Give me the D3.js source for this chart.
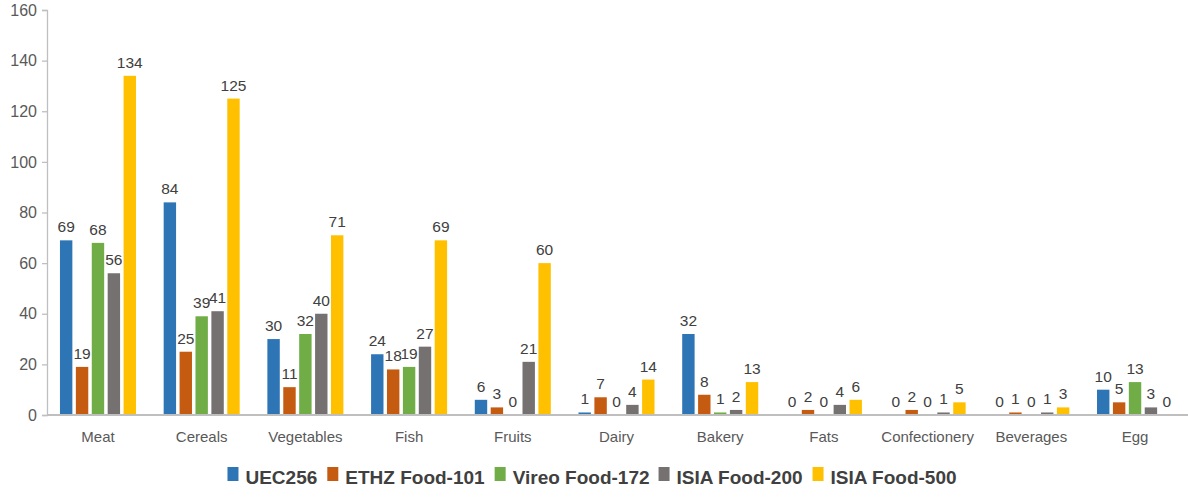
<!DOCTYPE html>
<html>
<head>
<meta charset="utf-8">
<script src="https://cdn.jsdelivr.net/npm/d3@7"></script>
<style>
  body { margin: 0; background: #fff; }
  svg { display: block; }
  text { font-family: "Liberation Sans", "DejaVu Sans", sans-serif; }
</style>
</head>
<body>
<svg id="chart"></svg>
<script>
  const categories = ['Meat', 'Cereals', 'Vegetables', 'Fish', 'Fruits', 'Dairy', 'Bakery', 'Fats', 'Confectionery', 'Beverages', 'Egg'];
  const seriesNames = ['UEC256', 'ETHZ Food-101', 'Vireo Food-172', 'ISIA Food-200', 'ISIA Food-500'];
  const uec256 = [69, 84, 30, 24, 6, 1, 32, 0, 0, 0, 10];
  const ethz101 = [19, 25, 11, 18, 3, 7, 8, 2, 2, 1, 5];
  const vireo172 = [68, 39, 32, 19, 0, 0, 1, 0, 0, 0, 13];
  const isia200 = [56, 41, 40, 27, 21, 4, 2, 4, 1, 1, 3];
  const isia500 = [134, 125, 71, 69, 60, 14, 13, 6, 5, 3, 0];
  const yTicks = [0, 20, 40, 60, 80, 100, 120, 140, 160];
  const colors = ['#2E75B6', '#C55A11', '#70AD47', '#767171', '#FFC000'];

  let width = 1188, height = 497,
    margin = { top: 10, right: 2, bottom: 82, left: 47 },
    svg = d3.select('#chart').attr('width', width).attr('height', height);

  let values = [uec256, ethz101, vireo172, isia200, isia500];
  let rows = [];
  categories.forEach((c, i) => {
    seriesNames.forEach((s, j) => rows.push({ cat: c, series: s, idx: j, value: values[j][i] }));
  });

  let x0 = d3.scaleBand().domain(categories)
    .range([margin.left, width - margin.right]).paddingInner(0.267).paddingOuter(0.125);
  let x1 = d3.scaleBand().domain(seriesNames)
    .range([0, x0.bandwidth()]).paddingInner(0.22);
  let y = d3.scaleLinear().domain([0, 160]).range([height - margin.bottom, margin.top]);

  // y axis
  let yAxis = svg.append('g')
    .attr('transform', 'translate(' + margin.left + ',0)')
    .call(d3.axisLeft(y).tickValues(yTicks).tickSize(5).tickPadding(5));
  yAxis.select('.domain').attr('stroke', '#bfbfbf').attr('stroke-width', 1.3);
  yAxis.selectAll('.tick line').attr('stroke', '#bfbfbf').attr('stroke-width', 1.3);
  yAxis.selectAll('.tick text').attr('fill', '#595959').style('font-size', '16px');

  // bars
  svg.append('g').selectAll('rect').data(rows).enter().append('rect')
    .attr('x', d => x0(d.cat) + x1(d.series))
    .attr('y', d => y(d.value))
    .attr('width', x1.bandwidth())
    .attr('height', d => y(0) - y(d.value))
    .attr('fill', d => colors[d.idx]);

  // value labels
  svg.append('g').selectAll('text').data(rows).enter().append('text')
    .attr('x', d => x0(d.cat) + x1(d.series) + x1.bandwidth() / 2)
    .attr('y', d => y(d.value) - 8)
    .attr('text-anchor', 'middle')
    .attr('fill', '#404040')
    .style('font-size', '15.5px')
    .text(d => d.value);

  // x axis
  let xAxis = svg.append('g')
    .attr('transform', 'translate(0,' + y(0) + ')')
    .call(d3.axisBottom(x0).tickSize(0).tickPadding(16).tickSizeOuter(0));
  xAxis.select('.domain').attr('stroke', '#bfbfbf').attr('stroke-width', 2)
    .attr('d', 'M' + margin.left + ',0H' + width);
  xAxis.selectAll('.tick text').attr('fill', '#595959').style('font-size', '15px');

  // legend
  let legend = svg.append('g').attr('transform', 'translate(0,' + (height - 15) + ')');
  let items = legend.selectAll('g').data(seriesNames).enter().append('g');
  items.append('rect')
    .attr('y', -11).attr('width', 11).attr('height', 14)
    .attr('fill', (d, i) => colors[i]);
  items.append('text')
    .attr('x', 18).attr('y', 1)
    .attr('dominant-baseline', 'middle')
    .attr('fill', '#404040')
    .style('font-size', '19px')
    .style('font-weight', 'bold')
    .text(d => d);
  let xPos = 0, gaps = [10, 10, 9, 10, 0];
  items.each(function (d, i) {
    let w = d3.select(this).select('text').node().getComputedTextLength() + 18;
    d3.select(this).attr('data-x', xPos);
    xPos += w + gaps[i];
  });
  let startX = (width - xPos) / 2 - 2;
  items.attr('transform', function () {
    return 'translate(' + (startX + +this.getAttribute('data-x')) + ',-4)';
  });
</script>
</body>
</html>
